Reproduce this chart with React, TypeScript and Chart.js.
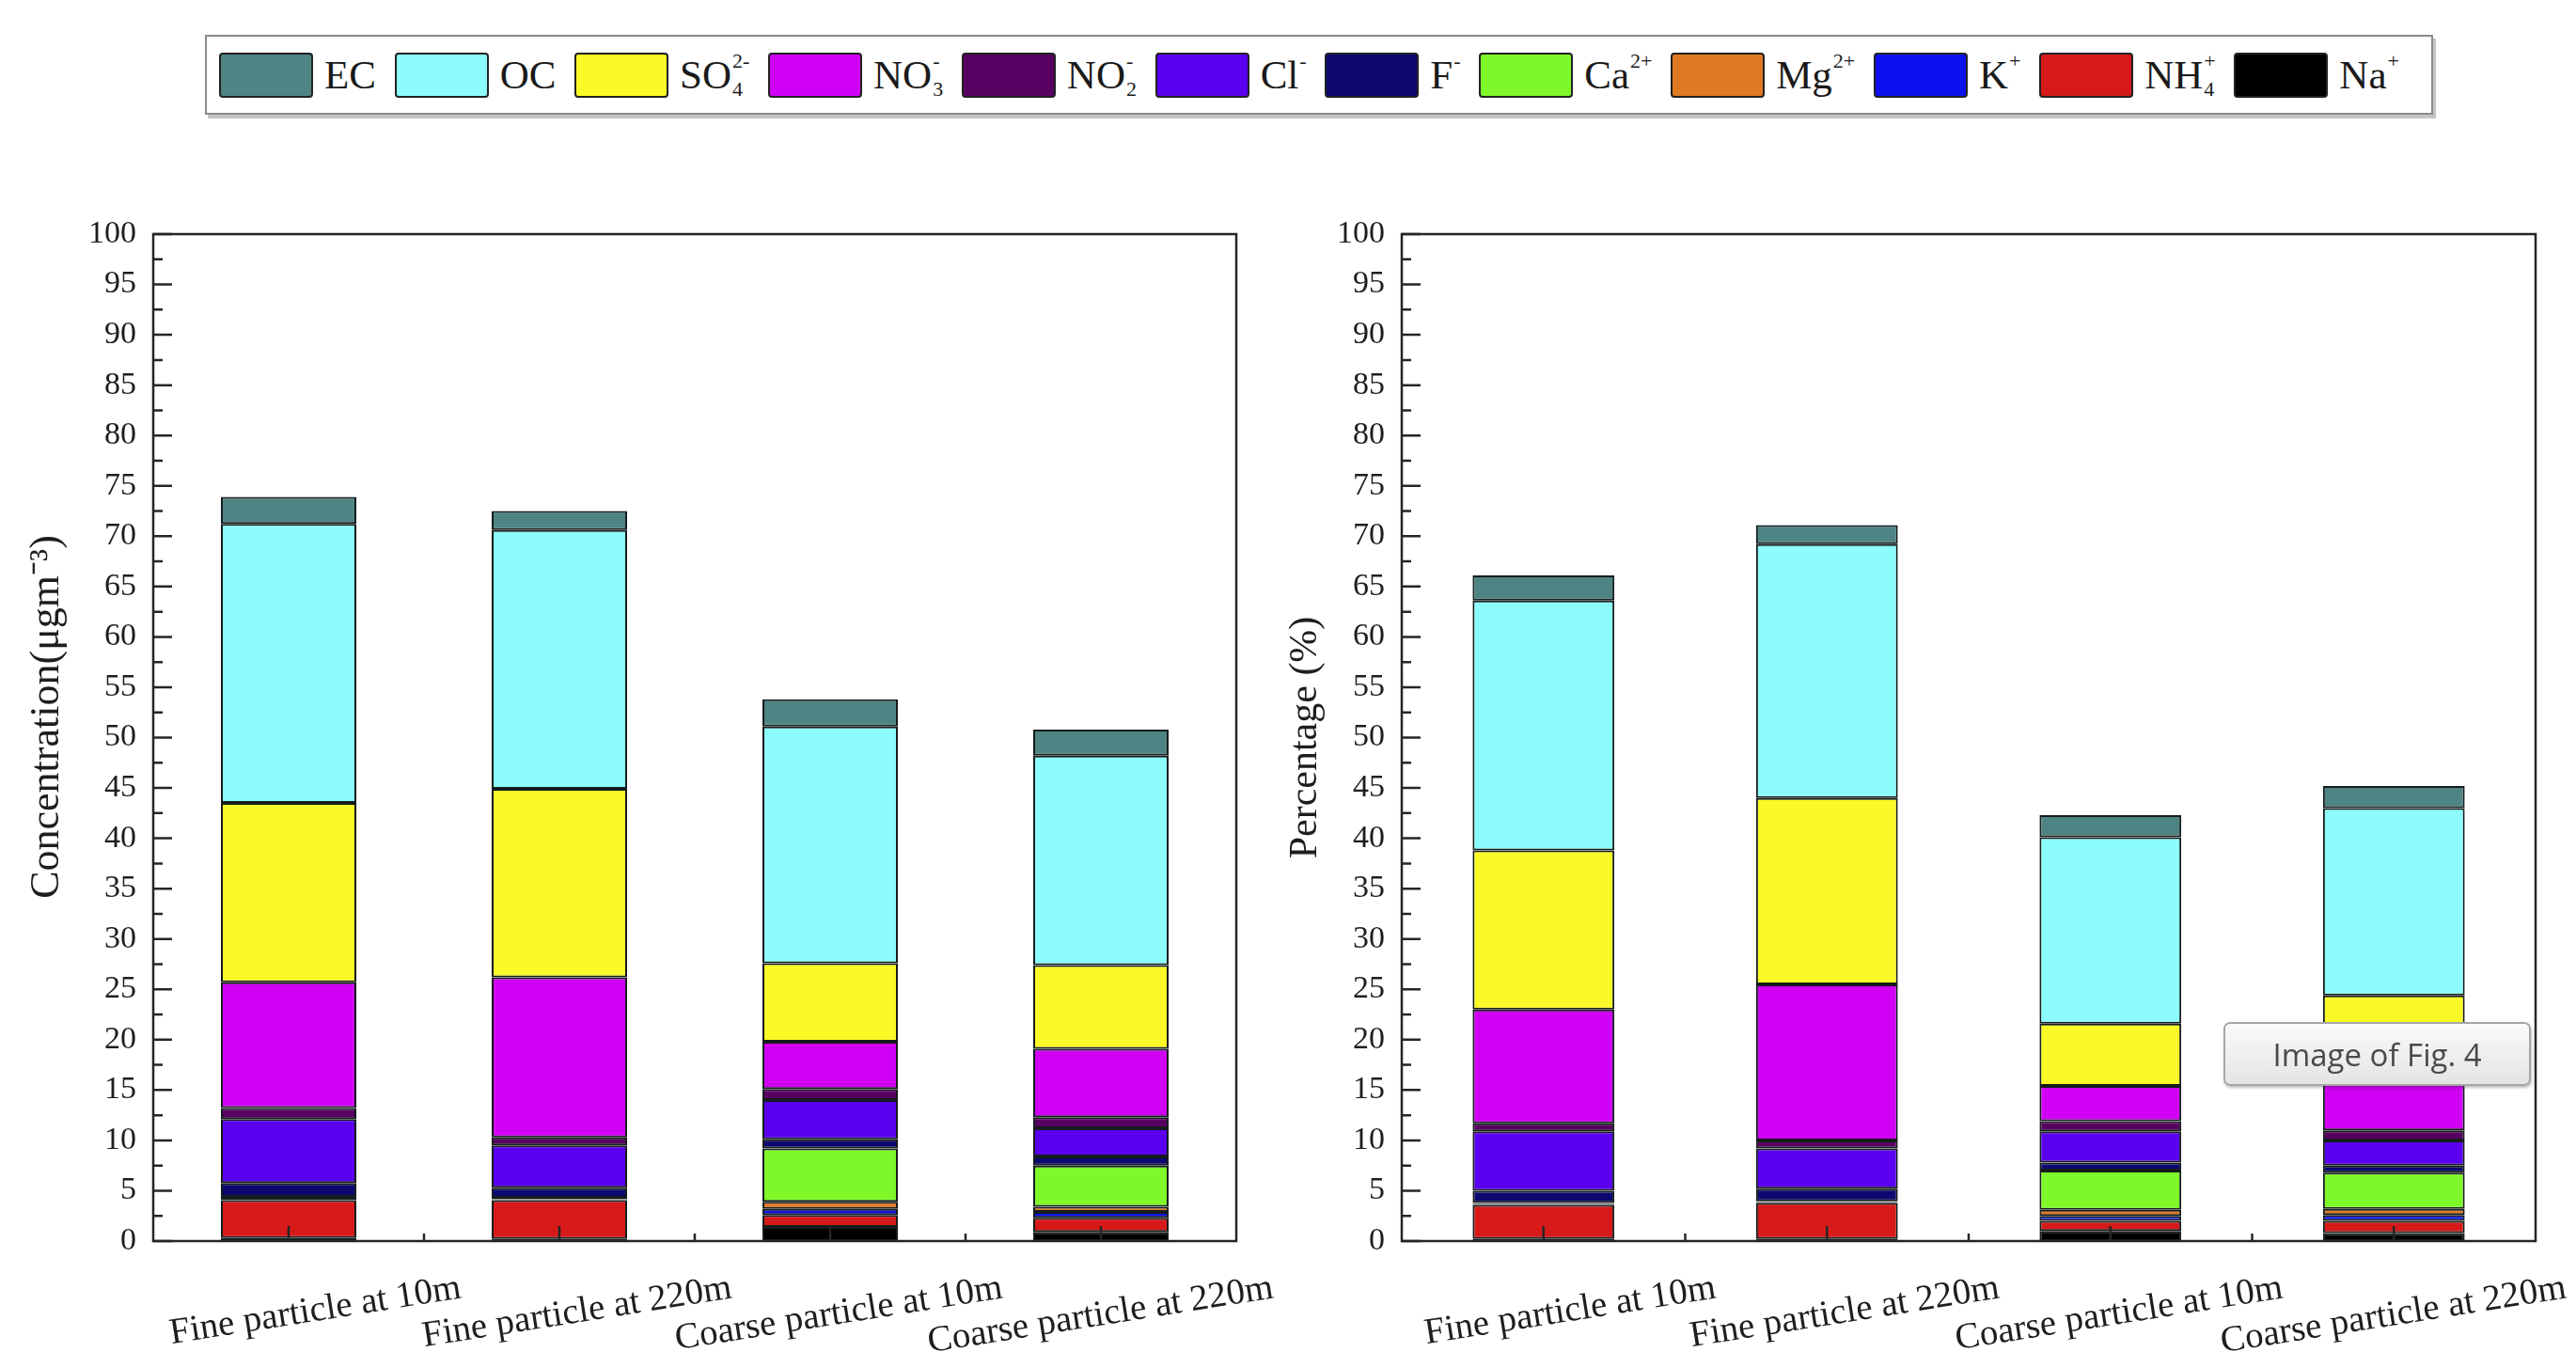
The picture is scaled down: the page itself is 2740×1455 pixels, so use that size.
import React, { useEffect, useRef } from "react";
import { Chart, registerables } from "chart.js";

Chart.register(...registerables);

// ---------- data ----------
const categories = [
  "Fine particle at 10m",
  "Fine particle at 220m",
  "Coarse particle at 10m",
  "Coarse particle at 220m",
];

// stacking order: bottom -> top
const speciesNames = ["Na+", "NH4+", "K+", "Mg2+", "Ca2+", "F-", "Cl-", "NO2-", "NO3-", "SO42-", "OC", "EC"];
const speciesColors = [
  "#000000", // Na+
  "#d61a1a", // NH4+
  "#0c10ee", // K+
  "#e07a22", // Mg2+
  "#7ff82a", // Ca2+
  "#0c0870", // F-
  "#5a00ee", // Cl-
  "#580062", // NO2-
  "#d000f5", // NO3-
  "#fafa28", // SO42-
  "#8cfcfc", // OC
  "#4f8484", // EC
];

// Concentration (µg m-3)
const concNa = [0.3, 0.2, 1.4, 0.9];
const concNH4 = [3.75, 3.85, 1.2, 1.4];
const concK = [0.15, 0.1, 0.6, 0.6];
const concMg = [0.1, 0.05, 0.7, 0.5];
const concCa = [0.1, 0.1, 5.3, 4.1];
const concF = [1.36, 1.0, 0.9, 0.9];
const concCl = [6.35, 4.2, 3.9, 2.8];
const concNO2 = [1.1, 0.8, 1.1, 1.1];
const concNO3 = [12.5, 15.9, 4.7, 6.8];
const concSO4 = [17.8, 18.7, 7.8, 8.3];
const concOC = [27.7, 25.7, 23.5, 20.8];
const concEC = [2.7, 1.9, 2.7, 2.6];

// Percentage (%)
const pctNa = [0.2, 0.2, 1.0, 0.8];
const pctNH4 = [3.4, 3.6, 1.0, 1.2];
const pctK = [0.1, 0.05, 0.5, 0.6];
const pctMg = [0.05, 0.05, 0.6, 0.6];
const pctCa = [0.05, 0.05, 3.9, 3.6];
const pctF = [1.2, 1.25, 0.8, 0.7];
const pctCl = [5.9, 4.0, 3.1, 2.5];
const pctNO2 = [0.8, 0.8, 1.0, 1.0];
const pctNO3 = [11.3, 15.5, 3.5, 6.0];
const pctSO4 = [15.8, 18.5, 6.2, 7.4];
const pctOC = [24.8, 25.2, 18.5, 18.6];
const pctEC = [2.5, 1.9, 2.2, 2.2];

const concSeries = [concNa, concNH4, concK, concMg, concCa, concF, concCl, concNO2, concNO3, concSO4, concOC, concEC];
const pctSeries = [pctNa, pctNH4, pctK, pctMg, pctCa, pctF, pctCl, pctNO2, pctNO3, pctSO4, pctOC, pctEC];

const yMin = 0;
const yMax = 100;
const yStep = 5;

// legend (display order)
const legendBase = ["EC", "OC", "SO", "NO", "NO", "Cl", "F", "Ca", "Mg", "K", "NH", "Na"];
const legendSup = ["", "", "2-", "-", "-", "-", "-", "2+", "2+", "+", "+", "+"];
const legendSub = ["", "", "4", "3", "2", "", "", "", "", "", "4", ""];
const legendColors = ["#4f8484", "#8cfcfc", "#fafa28", "#d000f5", "#580062", "#5a00ee", "#0c0870", "#7ff82a", "#e07a22", "#0c10ee", "#d61a1a", "#000000"];

const SERIF = '"Liberation Serif", "Times New Roman", serif';

// ---------- frame + inward ticks plugin ----------
const framePlugin = {
  id: "frameTicks",
  afterDatasetsDraw(chart: any) {
    const { ctx, chartArea, scales } = chart;
    const { left, right, top, bottom } = chartArea;
    const x = scales.x;
    const y = scales.y;
    ctx.save();
    ctx.strokeStyle = "#262626";
    ctx.lineWidth = 2.5;
    ctx.strokeRect(left, top, right - left, bottom - top);
    ctx.beginPath();
    for (let v = yMin; v <= yMax; v += yStep / 2) {
      const py = y.getPixelForValue(v);
      const len = v % yStep === 0 ? 20 : 10;
      ctx.moveTo(left, py);
      ctx.lineTo(left + len, py);
    }
    const n = categories.length;
    for (let i = 0; i < n; i++) {
      const px = x.getPixelForValue(i);
      ctx.moveTo(px, bottom);
      ctx.lineTo(px, bottom - 16);
      if (i < n - 1) {
        const pm = (px + x.getPixelForValue(i + 1)) / 2;
        ctx.moveTo(pm, bottom);
        ctx.lineTo(pm, bottom - 8);
      }
    }
    ctx.stroke();
    ctx.restore();
  },
};

type ChartProps = {
  series: number[][];
  title: string;
  titleSize: number;
  left: number;
  width: number;
  yAxisWidth: number;
  padRight: number;
  titlePad: number;
};

function StackedChart({ series, title, titleSize, left, width, yAxisWidth, padRight, titlePad }: ChartProps) {
  const ref = useRef<HTMLCanvasElement>(null);
  const height = 1255;
  useEffect(() => {
    const chart = new Chart(ref.current as HTMLCanvasElement, {
      type: "bar",
      data: {
        labels: categories,
        datasets: speciesNames.map((name, i) => ({
          label: name,
          data: series[i],
          backgroundColor: speciesColors[i],
          borderColor: "#151c1c",
          borderWidth: 2,
          borderSkipped: false,
          categoryPercentage: 1,
          barPercentage: 0.5,
        })),
      },
      options: {
        responsive: false,
        animation: false,
        devicePixelRatio: 1,
        layout: { padding: { left: 0, right: padRight, top: 49, bottom: 0 } },
        plugins: { legend: { display: false }, tooltip: { enabled: false } },
        scales: {
          x: {
            stacked: true,
            grid: { display: false, drawTicks: false },
            border: { display: false },
            ticks: {
              autoSkip: false,
              minRotation: 9,
              maxRotation: 9,
              padding: 27,
              labelOffset: 183,
              color: "#1e1e1e",
              font: { family: SERIF, size: 39 },
            },
            afterFit: (s: any) => {
              s.height = 135;
              s.paddingLeft = 0;
              s.paddingRight = 0;
            },
          },
          y: {
            stacked: true,
            min: yMin,
            max: yMax,
            ticks: {
              stepSize: yStep,
              padding: 18,
              color: "#1e1e1e",
              font: { family: SERIF, size: 34 },
            },
            grid: { display: false, drawTicks: false },
            border: { display: false },
            title: {
              display: true,
              text: title,
              color: "#1e1e1e",
              font: { family: SERIF, size: titleSize },
              padding: { top: titlePad, bottom: 0 },
            },
            afterFit: (s: any) => {
              s.width = yAxisWidth;
              s.paddingTop = 0;
              s.paddingBottom = 0;
            },
          },
        },
      },
      plugins: [framePlugin],
    } as any);
    return () => chart.destroy();
  }, []);
  return (
    <canvas
      ref={ref}
      width={width}
      height={height}
      style={{ position: "absolute", left, top: 200, width, height }}
    />
  );
}

function Legend() {
  return (
    <div
      style={{
        position: "absolute",
        left: 218,
        top: 37,
        width: 2370,
        height: 85,
        boxSizing: "border-box",
        border: "2px solid #8a8a8a",
        boxShadow: "3px 4px 0 #c4c4c4",
        background: "#fff",
        display: "flex",
        alignItems: "center",
        justifyContent: "space-between",
        paddingLeft: 13,
        paddingRight: 34,
        fontFamily: SERIF,
        fontSize: 43,
        color: "#1a1a1a",
      }}
    >
      {legendBase.map((base, i) => (
        <div key={i} style={{ display: "flex", alignItems: "center" }}>
          <div
            style={{
              width: 100,
              height: 48,
              boxSizing: "border-box",
              background: legendColors[i],
              border: "2.5px solid #222",
              borderRadius: 4,
            }}
          />
          <span style={{ marginLeft: 12, display: "inline-flex", alignItems: "center", lineHeight: 1 }}>
            <span>{base}</span>
            {(legendSup[i] || legendSub[i]) && (
              <span
                style={{
                  display: "inline-flex",
                  flexDirection: "column",
                  fontSize: 22,
                  lineHeight: "24px",
                  marginLeft: 1,
                }}
              >
                <span style={{ height: 24 }}>{legendSup[i] || "\u00a0"}</span>
                <span style={{ height: 24, marginTop: 6 }}>{legendSub[i] || "\u00a0"}</span>
              </span>
            )}
          </span>
        </div>
      ))}
    </div>
  );
}

export default function App() {
  return (
    <div
      style={{
        position: "absolute",
        left: 0,
        top: 0,
        width: 2740,
        height: 1455,
        background: "#ffffff",
        overflow: "hidden",
      }}
    >
      <Legend />
      <StackedChart
        series={concSeries}
        title={"\u00a0\u00a0\u00a0\u00a0Concentration(μgm⁻³)"}
        titleSize={44}
        left={0}
        width={1380}
        yAxisWidth={163}
        padRight={65}
        titlePad={24}
      />
      <StackedChart
        series={pctSeries}
        title="Percentage (%)"
        titleSize={42}
        left={1340}
        width={1400}
        yAxisWidth={151}
        padRight={43}
        titlePad={24}
      />
      <div
        style={{
          position: "absolute",
          left: 2365,
          top: 1087,
          width: 327,
          height: 68,
          boxSizing: "border-box",
          border: "2px solid #a6a6a6",
          borderRadius: 7,
          background: "linear-gradient(#fafafa, #e4e4e4)",
          boxShadow: "1px 2px 3px rgba(0,0,0,0.25)",
          display: "flex",
          alignItems: "center",
          justifyContent: "center",
          fontFamily: '"Open Sans", "Noto Sans", sans-serif',
          fontSize: 33,
          color: "#4a4a4a",
        }}
      >
        Image of Fig. 4
      </div>
    </div>
  );
}
